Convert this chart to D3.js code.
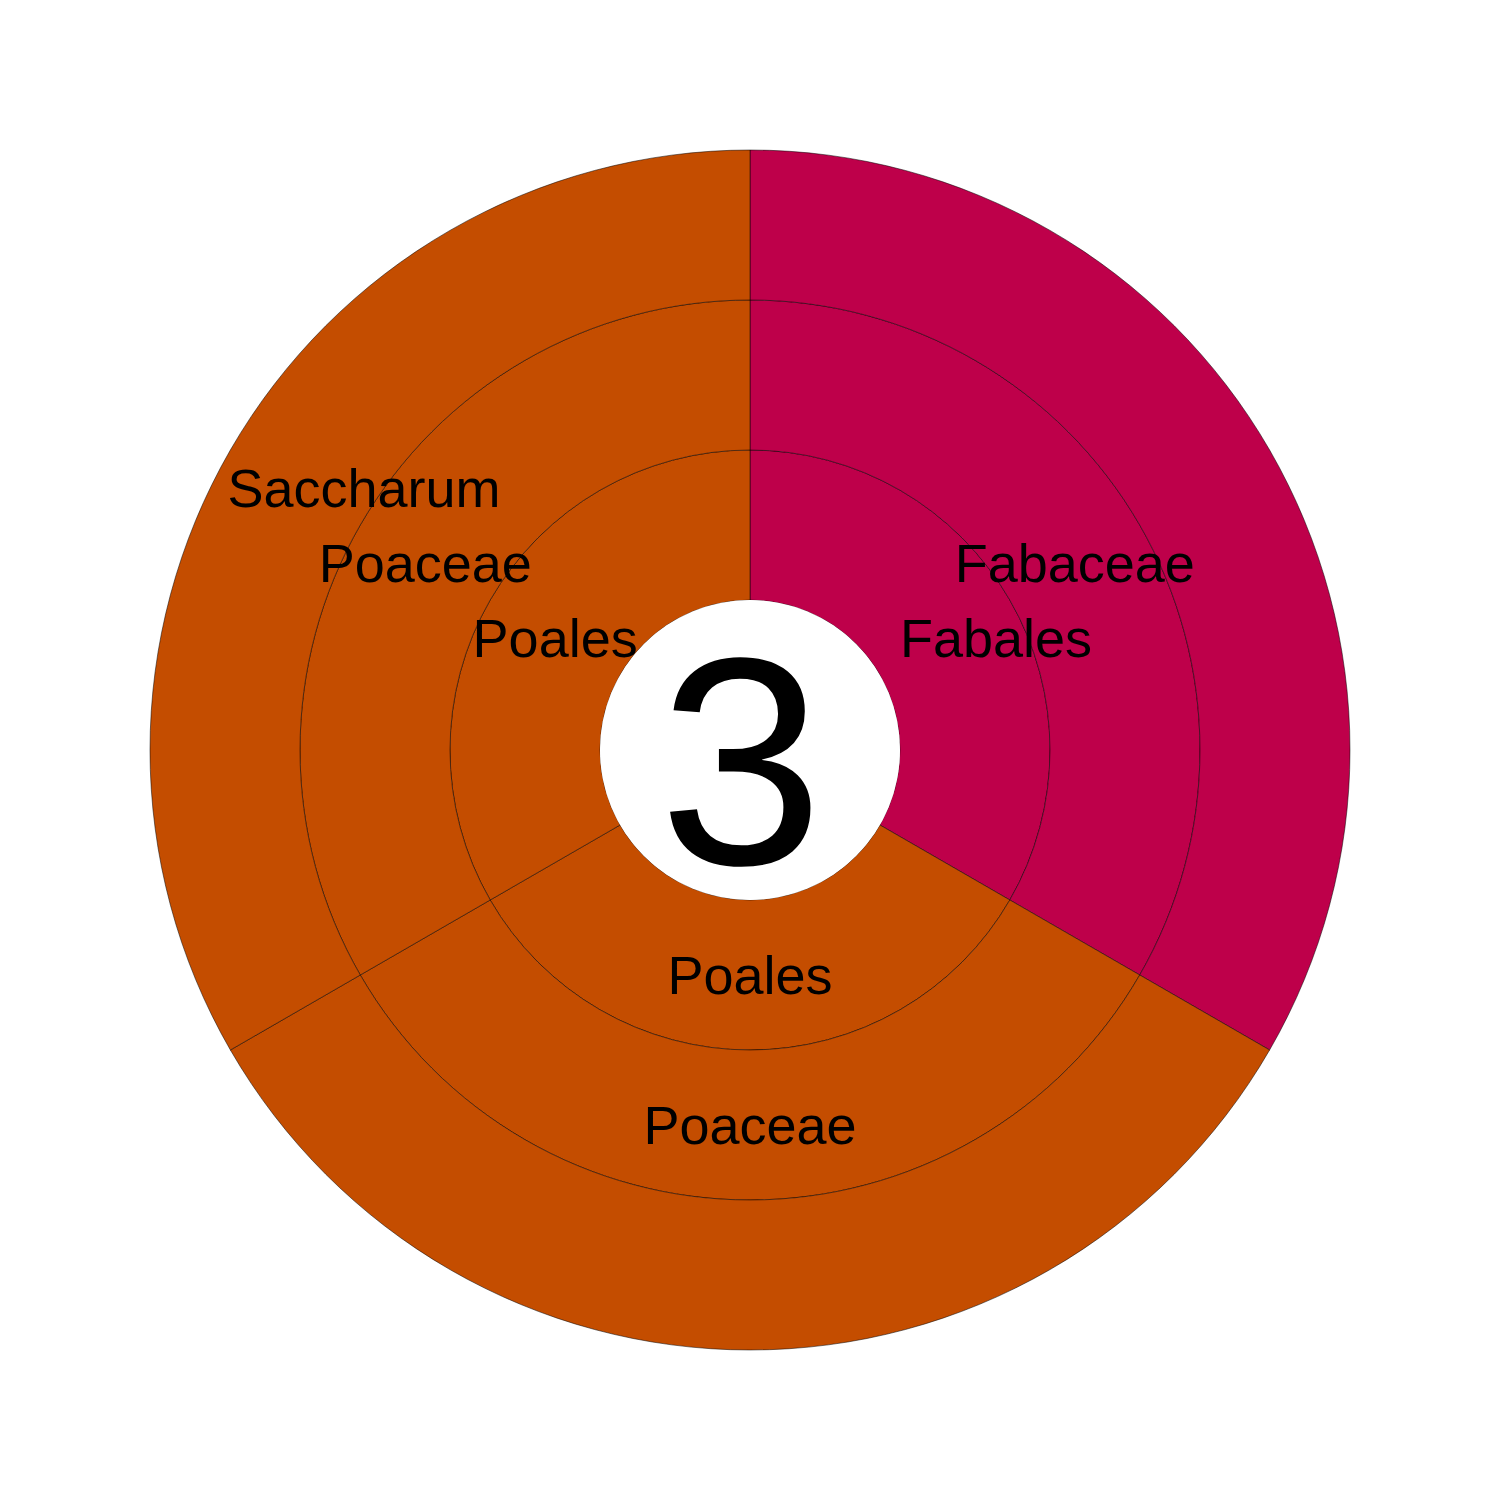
<!DOCTYPE html>
<html>
<head>
<meta charset="utf-8">
<script src="https://cdn.jsdelivr.net/npm/d3@7"></script>
<style>
  html, body { margin: 0; padding: 0; background: #ffffff; }
  svg { display: block; }
  text { font-family: "Liberation Sans", Arial, Helvetica, sans-serif; }
</style>
</head>
<body>
<script>
// ---- data ----
const orders   = ["Fabales", "Poales", "Poales"];
const families = ["Fabaceae", "Poaceae", "Poaceae"];
const genera   = ["", "", "Saccharum"];
const counts   = [1, 1, 1];
const centerLabel = "3";
const levels = ["order", "family", "genus"];

// ---- layout ----
const W = 1500, H = 1500, cx = 750, cy = 750;
const holeR = 150, outerR = 600;
const colorOf = d3.scaleOrdinal().domain(["Fabales", "Poales"]).range(["#BE004A", "#C44D00"]);

const rows = orders.map((o, i) => ({ order: o, family: families[i], genus: genera[i], value: counts[i] }));
const pie = d3.pie().sort(null).value(d => d.value).startAngle(0).endAngle(2 * Math.PI);
const slices = pie(rows);

const ring = d3.scaleLinear().domain([0, levels.length]).range([holeR, outerR]);

const svg = d3.select("body").append("svg").attr("width", W).attr("height", H);
const g = svg.append("g").attr("transform", `translate(${cx},${cy})`);

const cells = [];
slices.forEach(s => {
  levels.forEach((lv, depth) => {
    cells.push({ s, depth, label: s.data[lv], color: colorOf(s.data.order) });
  });
});

const arcFor = c => d3.arc()
  .innerRadius(ring(c.depth)).outerRadius(ring(c.depth + 1))
  .startAngle(c.s.startAngle).endAngle(c.s.endAngle);

g.selectAll("path.cell").data(cells).join("path")
  .attr("class", "cell")
  .attr("d", c => arcFor(c)())
  .attr("fill", c => c.color)
  .attr("stroke", "#000")
  .attr("stroke-width", 0.5);

// labels at arc centroids, nudged to stay inside the disc and clear of the hole
const fs = 54;
const labels = g.selectAll("text.lbl").data(cells.filter(c => c.label)).join("text")
  .attr("class", "lbl")
  .attr("text-anchor", "middle")
  .attr("font-size", fs)
  .attr("fill", "#000")
  .attr("dy", "0.36em")
  .text(c => c.label);

labels.each(function(c) {
  const [x, y] = arcFor(c).centroid();
  const w = this.getComputedTextLength();
  let left = x - w / 2;
  const topY = y - fs / 2;
  const lim = Math.sqrt(Math.max(0, outerR * outerR - topY * topY));
  if (left < -lim + 3) left = -lim + 3;
  if (left + w > lim - 3) left = lim - 3 - w;
  if (x > 0 && left < holeR && Math.abs(y) < holeR) left = holeR;
  d3.select(this).attr("x", left + w / 2).attr("y", y);
});

// central hole and count
g.append("circle").attr("r", holeR).attr("fill", "#fff");
g.append("text")
  .attr("text-anchor", "middle")
  .attr("font-size", 296)
  .attr("y", 0)
  .attr("dx", "-0.03em")
  .attr("dy", "0.385em")
  .attr("fill", "#000")
  .text(centerLabel);
</script>
</body>
</html>
